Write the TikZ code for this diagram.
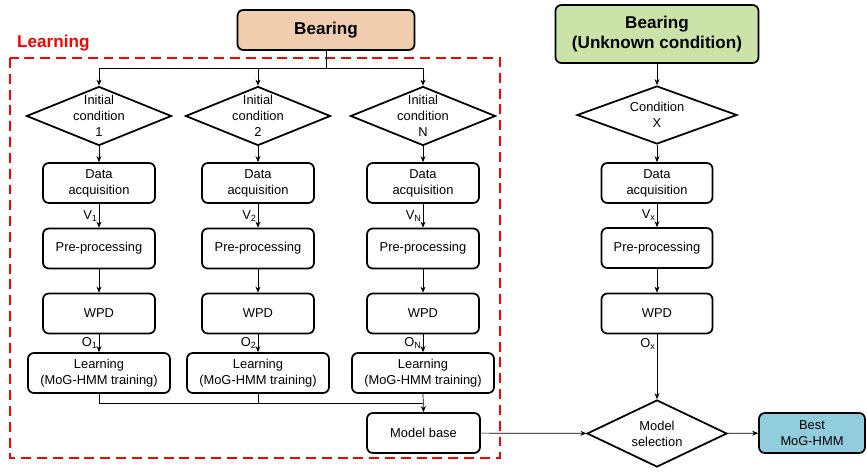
\documentclass[tikz,border=0pt]{standalone}
\usepackage{fontspec}
\setmainfont{Liberation Sans}
\usetikzlibrary{arrows.meta,positioning,shapes.geometric}

\begin{document}
\begin{tikzpicture}[x=0.03cm, y=-0.03cm,
    every node/.style={font=\fontsize{11}{13.6}\selectfont},
    box/.style={rectangle, rounded corners=5pt, draw, line width=1.5pt, minimum width=3.36cm, minimum height=1.2cm, align=center},
    cond/.style={diamond, draw, line width=1.5pt, aspect=2.46, inner sep=-2.5pt, minimum width=4.35cm, minimum height=1.77cm, align=center},
    head/.style={box, font=\fontsize{14.6}{17}\selectfont\bfseries},
    link/.style={-{Stealth[length=1.8mm, width=1.5mm]}, line width=0.6pt}
]
    % Define colors
    \definecolor{peach}{RGB}{241,205,175}
    \definecolor{leaf}{RGB}{203,227,168}
    \definecolor{sky}{RGB}{146,205,221}
    \definecolor{alarm}{RGB}{255,0,0}

    \useasboundingbox (0,0) rectangle (867,471);

    % Learning part
    \draw[alarm, line width=1.7pt, dash pattern=on 8.5pt off 5pt] (10,58) rectangle (500,458);
    \node[anchor=base west, inner sep=0pt, text=alarm, font=\fontsize{14.6}{17}\selectfont\bfseries] (learnlbl) at (17,47.5) {Learning};

    \node[head, fill=peach, minimum width=5.31cm] (bear) at (326,30) {Bearing};
    \coordinate (split) at (326,68);
    \draw[line width=0.6pt] (bear.south) -- (split);

    \foreach \i/\x in {1/99, 2/258, N/423} {
        \node[cond] (c\i) at (\x,116) {Initial\\condition\\\i};
        \node[box] (da\i) at (\x,183) {Data\\acquisition};
        \node[box] (pp\i) at (\x,248.5) {Pre-processing};
        \node[box] (wpd\i) at (\x,313.5) {WPD};
        \node[box, minimum width=4.26cm] (ln\i) at (\x,373) {Learning\\(MoG-HMM training)};
        \draw[link] (split) -| (c\i.north);
        \draw[link] (c\i) -- (da\i);
        \draw[link] (da\i) -- node[left, inner sep=1pt] {V\textsubscript{\i}} (pp\i);
        \draw[link] (pp\i) -- (wpd\i);
        \draw[link] (wpd\i) -- node[left, inner sep=1pt] {O\textsubscript{\i}} (ln\i);
    }

    \node[box, minimum width=3.39cm] (mb) at (423.5,433) {Model base};
    \coordinate (merge) at (423,403);
    \draw[line width=0.6pt] (ln1.south) |- (merge);
    \draw[line width=0.6pt] (ln2.south) |- (merge);
    \draw[link] (lnN.south) -- (mb.north);

    % Unknown condition part
    \node[head, fill=leaf, minimum width=6.09cm, minimum height=1.74cm] (bearx) at (657,34) {Bearing\\(Unknown condition)};
    \node[cond, inner sep=0pt, minimum width=4.8cm, minimum height=1.74cm] (cx) at (657,115) {Condition\\X};
    \node[box, minimum width=3.33cm] (dax) at (657,183) {Data\\acquisition};
    \node[box, minimum width=3.33cm] (ppx) at (657,248) {Pre-processing};
    \node[box, minimum width=3.33cm] (wpdx) at (657,313.5) {WPD};
    \node[cond, inner sep=0pt, minimum width=4.2cm, minimum height=2.01cm] (msel) at (657,433.5) {Model\\selection};
    \node[box, fill=sky, minimum width=3.18cm] (best) at (812,433) {Best\\MoG-HMM};

    \draw[link] (bearx) -- (cx);
    \draw[link] (cx) -- (dax);
    \draw[link] (dax) -- node[left, inner sep=1pt] {V\textsubscript{x}} (ppx);
    \draw[link] (ppx) -- (wpdx);
    \draw[link] (wpdx) -- node[left, inner sep=1pt, pos=0.15] {O\textsubscript{x}} (msel);
    \draw[link] (mb) -- (msel);
    \draw[link] (msel) -- (best);
\end{tikzpicture}
\end{document}
